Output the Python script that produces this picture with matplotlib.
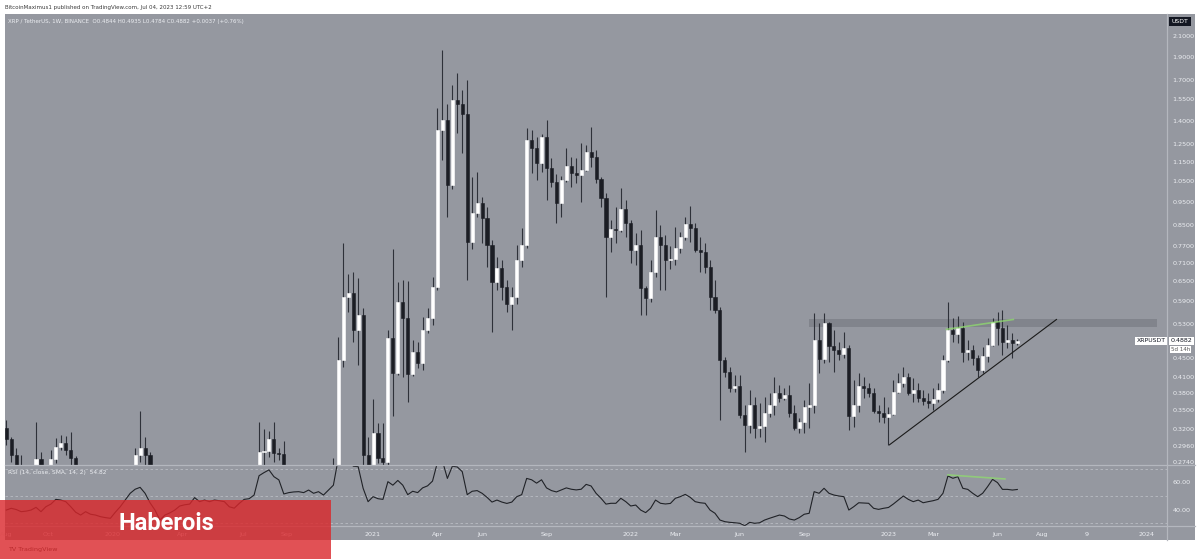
import matplotlib
matplotlib.use("Agg")
import matplotlib.pyplot as plt
from matplotlib.patches import Rectangle
from matplotlib.lines import Line2D
from matplotlib.ticker import NullLocator

# ---------------- data (weekly XRP/USDT bars, Aug 5 2019 .. Jul 3 2023) ----------------
opens = [0.322, 0.305, 0.283, 0.262, 0.258, 0.260, 0.262, 0.277, 0.243, 0.255,
         0.277, 0.294, 0.300, 0.290, 0.279, 0.262, 0.225, 0.227, 0.218, 0.203,
         0.190, 0.190, 0.197, 0.215, 0.235, 0.225, 0.240, 0.283, 0.292, 0.283,
         0.235, 0.220, 0.150, 0.155, 0.172, 0.185, 0.180, 0.190, 0.196, 0.215,
         0.200, 0.198, 0.196, 0.205, 0.200, 0.187, 0.183, 0.175, 0.178, 0.200,
         0.198, 0.222, 0.287, 0.288, 0.305, 0.286, 0.284, 0.245, 0.240, 0.245,
         0.243, 0.245, 0.238, 0.253, 0.243, 0.250, 0.240, 0.262, 0.446, 0.603,
         0.615, 0.515, 0.553, 0.283, 0.237, 0.314, 0.279, 0.273, 0.495, 0.419,
         0.588, 0.545, 0.417, 0.463, 0.439, 0.515, 0.545, 0.632, 1.339, 1.405,
         1.029, 1.546, 1.520, 1.446, 0.785, 0.899, 0.944, 0.878, 0.772, 0.648,
         0.691, 0.633, 0.583, 0.603, 0.719, 0.772, 1.277, 1.229, 1.143, 1.298,
         1.115, 1.046, 0.944, 1.054, 1.128, 1.090, 1.080, 1.105, 1.205, 1.177,
         1.058, 0.967, 0.803, 0.834, 0.830, 0.918, 0.858, 0.755, 0.773, 0.629,
         0.600, 0.679, 0.803, 0.773, 0.719, 0.722, 0.761, 0.803, 0.854, 0.838,
         0.755, 0.747, 0.695, 0.603, 0.566, 0.446, 0.421, 0.390, 0.393, 0.342,
         0.326, 0.359, 0.322, 0.325, 0.346, 0.359, 0.380, 0.371, 0.377, 0.346,
         0.322, 0.331, 0.356, 0.359, 0.490, 0.448, 0.532, 0.476, 0.467, 0.458,
         0.472, 0.341, 0.359, 0.393, 0.390, 0.380, 0.349, 0.346, 0.339, 0.344,
         0.382, 0.399, 0.411, 0.380, 0.386, 0.371, 0.366, 0.362, 0.369, 0.386,
         0.446, 0.515, 0.505, 0.519, 0.463, 0.467, 0.450, 0.425, 0.454, 0.479,
         0.535, 0.519, 0.486, 0.490, 0.4844]
highs = [0.334, 0.309, 0.292, 0.283, 0.265, 0.270, 0.331, 0.287, 0.260, 0.290,
         0.307, 0.311, 0.310, 0.316, 0.281, 0.268, 0.240, 0.235, 0.225, 0.205,
         0.196, 0.200, 0.220, 0.245, 0.245, 0.245, 0.292, 0.349, 0.308, 0.287,
         0.250, 0.230, 0.170, 0.175, 0.190, 0.200, 0.195, 0.200, 0.240, 0.225,
         0.205, 0.205, 0.210, 0.215, 0.205, 0.190, 0.190, 0.180, 0.210, 0.205,
         0.225, 0.331, 0.321, 0.318, 0.331, 0.293, 0.302, 0.255, 0.250, 0.250,
         0.248, 0.250, 0.255, 0.260, 0.255, 0.260, 0.279, 0.498, 0.779, 0.672,
         0.680, 0.660, 0.571, 0.309, 0.369, 0.330, 0.330, 0.515, 0.757, 0.647,
         0.653, 0.650, 0.490, 0.486, 0.548, 0.571, 0.664, 1.491, 1.964, 1.520,
         1.661, 1.757, 1.620, 1.700, 1.071, 1.093, 0.973, 0.928, 0.791, 0.730,
         0.719, 0.653, 0.633, 0.772, 0.838, 1.351, 1.339, 1.298, 1.313, 1.405,
         1.170, 1.085, 1.077, 1.227, 1.177, 1.171, 1.258, 1.246, 1.357, 1.217,
         1.071, 0.990, 0.871, 0.927, 1.015, 0.958, 0.871, 0.818, 0.830, 0.635,
         0.719, 0.913, 0.850, 0.810, 0.770, 0.842, 0.822, 0.883, 0.931, 0.858,
         0.803, 0.779, 0.719, 0.653, 0.574, 0.452, 0.431, 0.415, 0.415, 0.359,
         0.386, 0.373, 0.362, 0.373, 0.380, 0.411, 0.396, 0.390, 0.396, 0.359,
         0.337, 0.368, 0.399, 0.558, 0.532, 0.558, 0.534, 0.515, 0.486, 0.510,
         0.479, 0.405, 0.419, 0.411, 0.399, 0.390, 0.359, 0.373, 0.356, 0.405,
         0.419, 0.431, 0.419, 0.409, 0.399, 0.386, 0.380, 0.390, 0.399, 0.456,
         0.587, 0.545, 0.550, 0.535, 0.490, 0.479, 0.456, 0.474, 0.495, 0.545,
         0.561, 0.566, 0.527, 0.507, 0.4935]
lows = [0.297, 0.273, 0.255, 0.245, 0.245, 0.250, 0.255, 0.230, 0.235, 0.250,
        0.272, 0.290, 0.283, 0.270, 0.255, 0.220, 0.210, 0.215, 0.200, 0.175,
        0.185, 0.185, 0.195, 0.210, 0.215, 0.225, 0.235, 0.273, 0.265, 0.225,
        0.220, 0.114, 0.135, 0.150, 0.165, 0.170, 0.170, 0.185, 0.190, 0.195,
        0.180, 0.190, 0.190, 0.195, 0.180, 0.180, 0.170, 0.172, 0.176, 0.190,
        0.195, 0.220, 0.270, 0.280, 0.274, 0.276, 0.235, 0.230, 0.235, 0.240,
        0.227, 0.235, 0.235, 0.240, 0.240, 0.235, 0.235, 0.255, 0.431, 0.560,
        0.486, 0.435, 0.210, 0.170, 0.210, 0.272, 0.250, 0.260, 0.341, 0.415,
        0.411, 0.365, 0.413, 0.429, 0.424, 0.507, 0.527, 0.623, 1.160, 0.885,
        1.009, 1.318, 1.198, 0.653, 0.759, 0.885, 0.779, 0.696, 0.510, 0.623,
        0.594, 0.561, 0.515, 0.583, 0.696, 0.760, 1.089, 1.054, 1.097, 0.958,
        1.021, 0.857, 0.885, 1.046, 1.020, 1.039, 0.949, 1.100, 1.122, 1.039,
        0.925, 0.602, 0.747, 0.779, 0.822, 0.803, 0.709, 0.702, 0.553, 0.553,
        0.587, 0.663, 0.623, 0.623, 0.690, 0.702, 0.743, 0.791, 0.783, 0.747,
        0.679, 0.676, 0.566, 0.558, 0.335, 0.411, 0.382, 0.382, 0.338, 0.287,
        0.314, 0.307, 0.308, 0.301, 0.339, 0.342, 0.365, 0.368, 0.339, 0.319,
        0.314, 0.314, 0.322, 0.346, 0.419, 0.439, 0.441, 0.421, 0.446, 0.450,
        0.319, 0.323, 0.348, 0.372, 0.373, 0.346, 0.331, 0.330, 0.297, 0.342,
        0.380, 0.392, 0.377, 0.365, 0.365, 0.359, 0.355, 0.350, 0.364, 0.380,
        0.441, 0.486, 0.484, 0.441, 0.446, 0.435, 0.411, 0.419, 0.441, 0.476,
        0.479, 0.456, 0.472, 0.450, 0.4784]
closes = [0.305, 0.283, 0.262, 0.258, 0.260, 0.262, 0.277, 0.243, 0.255, 0.277,
          0.294, 0.300, 0.290, 0.279, 0.262, 0.225, 0.227, 0.218, 0.203, 0.190,
          0.190, 0.197, 0.215, 0.235, 0.225, 0.240, 0.283, 0.292, 0.283, 0.235,
          0.220, 0.150, 0.155, 0.172, 0.185, 0.180, 0.190, 0.196, 0.215, 0.200,
          0.198, 0.196, 0.205, 0.200, 0.187, 0.183, 0.175, 0.178, 0.200, 0.198,
          0.222, 0.287, 0.288, 0.305, 0.286, 0.284, 0.245, 0.240, 0.245, 0.243,
          0.245, 0.238, 0.253, 0.243, 0.250, 0.240, 0.262, 0.446, 0.603, 0.615,
          0.515, 0.553, 0.283, 0.237, 0.314, 0.279, 0.273, 0.495, 0.419, 0.588,
          0.545, 0.417, 0.463, 0.439, 0.515, 0.545, 0.632, 1.339, 1.405, 1.029,
          1.546, 1.520, 1.446, 0.785, 0.899, 0.944, 0.878, 0.772, 0.648, 0.691,
          0.633, 0.583, 0.603, 0.719, 0.772, 1.277, 1.229, 1.143, 1.298, 1.115,
          1.046, 0.944, 1.054, 1.128, 1.090, 1.080, 1.105, 1.205, 1.177, 1.058,
          0.967, 0.803, 0.834, 0.830, 0.918, 0.858, 0.755, 0.773, 0.629, 0.600,
          0.679, 0.803, 0.773, 0.719, 0.722, 0.761, 0.803, 0.854, 0.838, 0.755,
          0.747, 0.695, 0.603, 0.566, 0.446, 0.421, 0.390, 0.393, 0.342, 0.326,
          0.359, 0.322, 0.325, 0.346, 0.359, 0.380, 0.371, 0.377, 0.346, 0.322,
          0.331, 0.356, 0.359, 0.490, 0.448, 0.532, 0.476, 0.467, 0.458, 0.472,
          0.341, 0.359, 0.393, 0.390, 0.380, 0.349, 0.346, 0.339, 0.344, 0.382,
          0.399, 0.411, 0.380, 0.386, 0.371, 0.366, 0.362, 0.369, 0.386, 0.446,
          0.515, 0.505, 0.519, 0.463, 0.467, 0.450, 0.425, 0.454, 0.479, 0.535,
          0.519, 0.486, 0.490, 0.4845, 0.4882]
weeks = list(range(len(closes)))

rsi_values = [39.6, 40.9, 40.0, 38.4, 38.8, 39.6, 41.6, 38.4, 42.1, 44.0,
              47.5, 47.0, 45.8, 42.1, 38.0, 35.9, 38.4, 36.5, 35.9, 34.7,
              34.0, 33.5, 38.0, 42.1, 47.0, 52.0, 55.0, 56.4, 52.0, 45.0,
              39.6, 32.2, 35.9, 37.5, 39.6, 42.6, 43.5, 44.0, 48.8, 45.8,
              47.0, 45.8, 47.0, 46.5, 45.8, 42.0, 41.0, 44.5, 47.5, 48.0,
              50.7, 65.0, 67.3, 69.3, 64.3, 61.9, 51.5, 52.5, 53.0, 53.2,
              52.5, 54.4, 52.0, 53.2, 50.7, 54.4, 58.0, 78.0, 88.0, 85.0,
              72.0, 71.7, 55.7, 45.8, 49.5, 48.0, 47.5, 60.6, 58.0, 61.5,
              58.0, 51.0, 53.5, 52.5, 56.0, 57.5, 61.0, 75.0, 76.0, 63.0,
              72.0, 71.5, 68.0, 51.0, 53.5, 54.0, 52.0, 49.0, 45.5, 47.0,
              45.5, 44.5, 45.5, 49.5, 51.0, 63.0, 62.0, 59.5, 62.0, 56.0,
              54.0, 53.0, 54.5, 56.0, 55.0, 54.5, 55.0, 58.6, 57.4, 52.0,
              48.3, 44.0, 44.6, 44.6, 48.3, 45.8, 42.6, 43.3, 39.6, 37.7,
              40.9, 47.0, 44.6, 44.1, 44.5, 48.3, 49.5, 51.2, 49.0, 45.8,
              45.0, 44.6, 39.6, 37.2, 32.2, 31.0, 30.5, 30.2, 29.8, 28.0,
              30.5, 29.8, 30.2, 32.2, 33.5, 34.7, 35.9, 35.2, 33.0, 32.2,
              34.0, 36.5, 37.2, 53.2, 52.0, 55.7, 52.0, 50.7, 50.0, 49.5,
              39.6, 42.1, 45.0, 44.8, 44.6, 40.9, 40.1, 40.9, 41.5, 44.1,
              47.0, 50.0, 47.5, 45.8, 47.0, 45.0, 45.8, 46.5, 47.5, 52.0,
              64.8, 63.1, 64.3, 55.7, 54.9, 52.0, 49.5, 52.0, 56.9, 62.3,
              59.9, 54.9, 54.9, 54.4, 54.82]

price_ticks = [2.1, 1.9, 1.7, 1.55, 1.4, 1.25, 1.15, 1.05, 0.95, 0.85, 0.77,
               0.71, 0.65, 0.59, 0.53, 0.45, 0.41, 0.38, 0.35, 0.32, 0.296, 0.274]
rsi_ticks = [60, 40]
time_tick_weeks = [0, 8.4, 21.5, 35.6, 47.8, 56.6, 74, 87, 96, 109, 126, 135,
                   148, 161, 178, 187, 200, 209, 218, 230]
time_tick_labels = ["Aug", "Oct", "2020", "Apr", "Jul", "Sep", "2021", "Apr", "Jun",
                    "Sep", "2022", "Mar", "Jun", "Sep", "2023", "Mar", "Jun", "Aug",
                    "9", "2024"]

# drawings on the chart (week index, price / rsi)
zone_weeks = [162, 232.2]
zone_prices = [0.521, 0.541]
trend_weeks = [178.2, 211.9]
trend_prices = [0.297, 0.541]
div_weeks = [189.7, 203.2]
div_prices = [0.516, 0.541]
rsi_div_weeks = [190.0, 201.5]
rsi_div_values = [65.6, 62.6]

# ---------------- layout helpers ----------------
W, H = 1200, 559
def fx(x):
    return x / W
def fy(y):
    return 1 - y / H

BG = "#9598a0"
SEP = "#b4b7be"
TXT = "#eceef2"
UP = "#ffffff"
DOWN = "#1b1d24"
WICK = "#2e3139"

plt.rcParams['font.family'] = ['DejaVu Sans']

fig = plt.figure(figsize=(12, 5.59), dpi=100)
fig.patch.set_facecolor("white")
fig.patches.append(Rectangle((fx(5), fy(540)), fx(1195) - fx(5), fy(14) - fy(540),
                             transform=fig.transFigure, facecolor=BG,
                             edgecolor="none", zorder=-5))

XL = (-0.26, 234.2)

# ---------------- price pane ----------------
ax = fig.add_axes([fx(5), fy(464.5), fx(1167) - fx(5), fy(14) - fy(464.5)])
ax.set_facecolor(BG)
ax.set_yscale('log')
ax.set_ylim(0.2703, 2.333)
ax.set_xlim(*XL)

colors = [UP if c >= o else DOWN for o, c in zip(opens, closes)]
bottoms = [min(o, c) for o, c in zip(opens, closes)]
heights = [max(abs(c - o), 1e-4) for o, c in zip(opens, closes)]
ax.vlines(weeks, lows, highs, colors=WICK, linewidth=0.8, zorder=2)
ax.bar(weeks, heights, bottom=bottoms, width=0.62, color=colors,
       edgecolor=colors, linewidth=0.4, zorder=3)

ax.add_patch(Rectangle((zone_weeks[0], zone_prices[0]), zone_weeks[1] - zone_weeks[0],
                       zone_prices[1] - zone_prices[0], facecolor="#3a3d48",
                       alpha=0.22, edgecolor="none", zorder=1))
ax.plot(trend_weeks, trend_prices, color="#1a1a1a", lw=0.8, zorder=4)
ax.plot(div_weeks, div_prices, color="#8fdc6e", lw=1.2, alpha=0.75, zorder=4)

ax.yaxis.tick_right()
ax.set_yticks(price_ticks)
ax.set_yticklabels([f"{v:.4f}" for v in price_ticks])
ax.yaxis.set_minor_locator(NullLocator())
ax.tick_params(axis='y', length=0, pad=4, labelsize=4.6, labelcolor=TXT)
ax.set_xticks([])
for s in ax.spines.values():
    s.set_visible(False)

# ---------------- RSI pane ----------------
rax = fig.add_axes([fx(5), fy(526), fx(1167) - fx(5), fy(464.5) - fy(526)])
rax.set_facecolor(BG)
rax.set_xlim(*XL)
rax.set_ylim(27.8, 73.3)
for lvl in (70, 50, 30):
    rax.axhline(lvl, color="#b9bcc3", lw=0.6, ls=(0, (3, 3)), zorder=1)
rax.plot(weeks, rsi_values, color="#202227", lw=0.8, zorder=3)
rax.plot(rsi_div_weeks, rsi_div_values, color="#8fdc6e", lw=1.2, alpha=0.75, zorder=4)
rax.yaxis.tick_right()
rax.set_yticks(rsi_ticks)
rax.set_yticklabels([f"{v:.2f}" for v in rsi_ticks])
rax.tick_params(axis='y', length=0, pad=4, labelsize=4.6, labelcolor=TXT)
rax.set_xticks(time_tick_weeks)
rax.set_xticklabels(time_tick_labels)
rax.tick_params(axis='x', length=0, pad=4, labelsize=4.6, labelcolor=TXT)
for s in rax.spines.values():
    s.set_visible(False)

# ---------------- separators ----------------
for y in (464.5, 526):
    fig.add_artist(Line2D([fx(5), fx(1195)], [fy(y), fy(y)], color=SEP, lw=0.9,
                          transform=fig.transFigure, zorder=5))
fig.add_artist(Line2D([fx(1167), fx(1167)], [fy(14), fy(540)], color=SEP, lw=0.9,
                      transform=fig.transFigure, zorder=5))

# ---------------- texts ----------------
fig.text(fx(5), fy(7), "BitcoinMaximus1 published on TradingView.com, Jul 04, 2023 12:59 UTC+2",
         fontsize=3.95, color="#3a3a3a", ha="left", va="center")
fig.text(fx(8), fy(21), "XRP / TetherUS, 1W, BINANCE  O0.4844 H0.4935 L0.4784 C0.4882 +0.0037 (+0.76%)",
         fontsize=4.0, color=TXT, ha="left", va="center")
fig.text(fx(8), fy(472.5), "RSI (14, close, SMA, 14, 2)  54.82",
         fontsize=4.2, color=TXT, ha="left", va="center")
fig.text(fx(1180), fy(21.5), "USDT", fontsize=4.4, color="white", ha="center", va="center",
         bbox=dict(facecolor="#131722", edgecolor="none", boxstyle="square,pad=0.4"), zorder=6)
fig.text(fx(1171), fy(341), "0.4882", fontsize=4.6, color="#131722", ha="left", va="center",
         bbox=dict(facecolor="white", edgecolor="none", boxstyle="square,pad=0.25"), zorder=6)
fig.text(fx(1171), fy(349.5), "5d 14h", fontsize=4.0, color="#555", ha="left", va="center",
         bbox=dict(facecolor="white", edgecolor="none", boxstyle="square,pad=0.2"), zorder=6)
fig.text(fx(1151), fy(341), "XRPUSDT", fontsize=4.4, color="#131722", ha="center", va="center",
         bbox=dict(facecolor="white", edgecolor="none", boxstyle="square,pad=0.25"), zorder=6)
fig.text(fx(8), fy(549), "TV TradingView", fontsize=4.6, color="#3a3a3a", ha="left", va="center",
         zorder=3)

# ---------------- watermark box ----------------
fig.patches.append(Rectangle((0, 0), fx(331), fy(500), transform=fig.transFigure,
                             facecolor=(218 / 255, 38 / 255, 42 / 255), alpha=0.8,
                             edgecolor="none", zorder=10))
fig.text(fx(166), fy(523.5), "Haberois", fontsize=17, fontweight="bold", color="white",
         family=["Roboto", "DejaVu Sans"], ha="center", va="center", zorder=11)

fig.savefig("out.png", dpi=100)
